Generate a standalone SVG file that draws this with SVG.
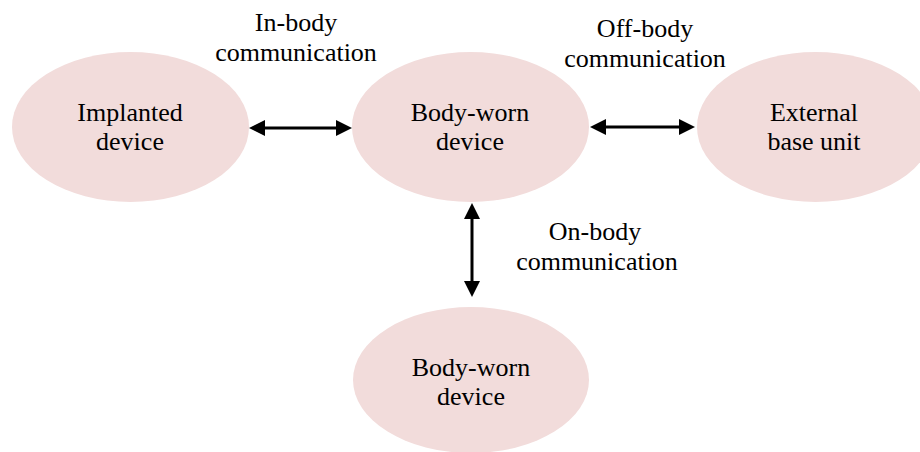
<svg xmlns="http://www.w3.org/2000/svg" width="920" height="452" viewBox="0 0 920 452">
  <defs>
    <style>
      .node ellipse { fill: #f2dcdb; stroke: none; }
      text { font-family: "Liberation Serif", "Times New Roman", serif; font-size: 26px; fill: #000; text-anchor: middle; }
      .conn line { stroke: #000; stroke-width: 3; fill: none; marker-start: url(#ah); marker-end: url(#ah); }
    </style>
    <marker id="ah" markerUnits="userSpaceOnUse" markerWidth="16" markerHeight="16" refX="8" refY="8" orient="auto-start-reverse">
      <path d="M0,0 L16,8 L0,16 z" fill="#000"/>
    </marker>
  </defs>
  <rect width="920" height="452" fill="#fff"/>

  <g id="implanted" class="node">
    <ellipse cx="130.5" cy="127" rx="118.5" ry="75"/>
    <text x="130" y="121">Implanted</text>
    <text x="130" y="150">device</text>
  </g>
  <g id="bodyworn-top" class="node">
    <ellipse cx="470.5" cy="127" rx="118.5" ry="75"/>
    <text x="470" y="121">Body-worn</text>
    <text x="470" y="150">device</text>
  </g>
  <g id="external" class="node">
    <ellipse cx="815.5" cy="127" rx="118.5" ry="75"/>
    <text x="814" y="121">External</text>
    <text x="814" y="150">base unit</text>
  </g>
  <g id="bodyworn-bottom" class="node">
    <ellipse cx="471" cy="380" rx="118" ry="73"/>
    <text x="471" y="376">Body-worn</text>
    <text x="471" y="405">device</text>
  </g>

  <g id="connectors" class="conn">
    <line x1="257" y1="128" x2="344" y2="128"/>
    <line x1="598" y1="127" x2="687" y2="127"/>
    <line x1="472" y1="211" x2="472" y2="289"/>
  </g>

  <g id="labels">
    <text x="296" y="31">In-body</text>
    <text x="296" y="61">communication</text>
    <text x="645" y="37">Off-body</text>
    <text x="645" y="67">communication</text>
    <text x="595" y="240">On-body</text>
    <text x="597" y="270">communication</text>
  </g>
</svg>
